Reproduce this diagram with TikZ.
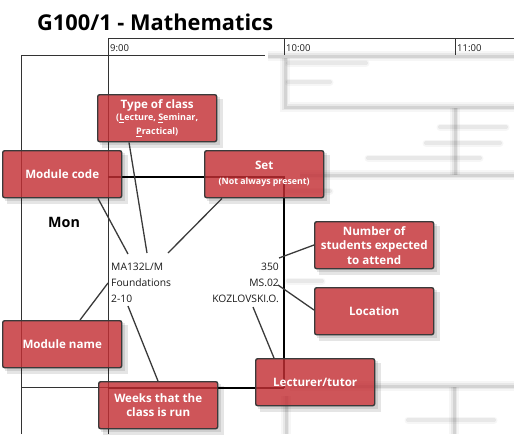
\documentclass[tikz,border=0pt]{standalone}
\usepackage{fontspec}
\setmainfont{Open Sans}
\definecolor{callred}{RGB}{195,47,52}
\definecolor{edgec}{RGB}{58,58,58}
\newcommand\fuzzline[1]{%
  \draw[line width=10pt,black,opacity=.035] #1;
  \draw[line width=6pt,black,opacity=.06] #1;
  \draw[line width=3pt,black,opacity=.09] #1;}
\newcommand\fuzztext[1]{%
  \draw[line width=7pt,line cap=round,black,opacity=.035] #1;
  \draw[line width=4pt,line cap=round,black,opacity=.06] #1;}
\begin{document}
\begin{tikzpicture}[x=1pt,y=-1pt,
  callout/.style={draw=edgec, line width=1.4pt, fill=callred, fill opacity=0.82,
    text opacity=1, text=white, font=\bfseries\fontsize{11.6}{14.5}\selectfont,
    rounded corners=2pt, minimum width=119pt, minimum height=47pt,
    inner sep=2pt, align=center, anchor=north west},
  gridl/.style={draw=black!80, line width=0.8pt},
  classedge/.style={draw=black, line width=2.4pt},
  conn/.style={draw=edgec, line width=1.3pt},
  cls/.style={font=\fontsize{10.3}{12}\selectfont, text=black!90, inner sep=0pt},
  hdr/.style={font=\fontsize{9.5}{11}\selectfont, text=black!90, inner sep=0pt, anchor=base west},
  shadowc/.style={fill=black, opacity=0.10}
]
\useasboundingbox (0,0) rectangle (514,434);

% blurred timetable background
\fuzzline{(268,56)--(514,56)}
\fuzzline{(285,58)--(285,107)--(514,107)}
\fuzztext{(288,63)--(366,63)}
\fuzztext{(288,82)--(330,82)}
\fuzzline{(455,108)--(455,175)}
\fuzzline{(300,175)--(514,175)}
\fuzztext{(440,127)--(506,127)}
\fuzztext{(426,143)--(500,143)}
\fuzztext{(368,158)--(480,158)}
\fuzztext{(288,191)--(330,191)}
\fuzztext{(288,281)--(322,281)}
\fuzzline{(290,386)--(514,386)}
\fuzzline{(454,387)--(454,434)}
\fuzzline{(286,396)--(286,434)}
\fuzztext{(408,420)--(494,420)}

% title and header
\node[font=\bfseries\fontsize{21.8}{24}\selectfont, inner sep=0pt, anchor=base west] (title) at (37,30) {G100/1 - Mathematics};
\draw[gridl] (108,38) -- (514,38);
\draw[gridl] (108,38) -- (108,434);
\draw[gridl] (284,38) -- (284,55);
\draw[gridl] (455,38) -- (455,55);
\node[hdr] (h9) at (110,51) {9:00};
\node[hdr] (h10) at (286,51) {10:00};
\node[hdr] (h11) at (457,51) {11:00};
\draw[gridl] (21,434) -- (21,55) -- (265,55);
\draw[gridl] (21,387) -- (108,387);
\node[font=\bfseries\fontsize{14.3}{16}\selectfont, inner sep=0pt, anchor=base west] (mon) at (48,227) {Mon};

% class box
\draw[classedge] (108,177) -- (284,177) -- (284,388);
\draw[draw=black, line width=2pt] (108,388) -- (284,388);
\node[cls, anchor=base west] (code) at (111,270) {MA132L/M};
\node[cls, anchor=base west] (name) at (111,286) {Foundations};
\node[cls, anchor=base west] (wks) at (111,302) {2-10};
\node[cls, anchor=base east] (num) at (279,270) {350};
\node[cls, anchor=base east] (room) at (279,286) {MS.02};
\node[cls, anchor=base east] (tutor) at (279,302) {KOZLOVSKI.O.};

\coordinate (pMC) at (128,254);
\coordinate (pTY) at (147,253);
\coordinate (pSE) at (168,253);
\coordinate (pNU) at (279,258);
\coordinate (pLO) at (278,285);
\coordinate (pMN) at (108,283);
\coordinate (pWK) at (128,306);
\coordinate (pLE) at (253,307);

% callouts
\node[callout] (typ) at (97,94) {Type of class\\[-2.5pt]\fontsize{9}{12}\selectfont(\underline{L}ecture, \underline{S}eminar,\\\fontsize{9}{12}\selectfont\underline{P}ractical)};
\node[callout] (mcode) at (2,150) {Module code};
\node[callout] (set) at (204,150) {Set\\[0.5pt]\fontsize{8.8}{10}\selectfont(Not always present)};
\node[callout] (numb) at (314,221) {Number of\\students expected\\to attend};
\node[callout] (loc) at (314,287) {Location};
\node[callout] (mname) at (2,320) {Module name};
\node[callout] (weeks) at (98,381) {Weeks that the\\class is run};
\node[callout] (lect) at (255,358) {Lecturer/tutor};

% soft shadows
\foreach \n in {typ,mcode,set,numb,loc,mname,weeks,lect}{
  \fill[shadowc] ([shift={(0,3)}]\n.north east) rectangle ([shift={(3,3)}]\n.south east);
  \fill[shadowc] ([shift={(3,0)}]\n.south west) rectangle ([shift={(0,3)}]\n.south east);
  \fill[shadowc] ([shift={(0,5)}]\n.north east) rectangle ([shift={(6,6)}]\n.south east);
  \fill[shadowc] ([shift={(5,0)}]\n.south west) rectangle ([shift={(0,6)}]\n.south east);
}

% connectors
\draw[conn] ([xshift=96pt]mcode.south west) -- (pMC);
\draw[conn] ([xshift=32pt]typ.south west) -- (pTY);
\draw[conn] ([xshift=18pt]set.south west) -- (pSE);
\draw[conn] ([yshift=-24pt]numb.north west) -- (pNU);
\draw[conn] ([yshift=-23pt]loc.north west) -- (pLO);
\draw[conn] ([xshift=78pt]mname.north west) -- (pMN);
\draw[conn] ([xshift=60pt]weeks.north west) -- (pWK);
\draw[conn] ([xshift=19pt]lect.north west) -- (pLE);
\end{tikzpicture}
\end{document}
